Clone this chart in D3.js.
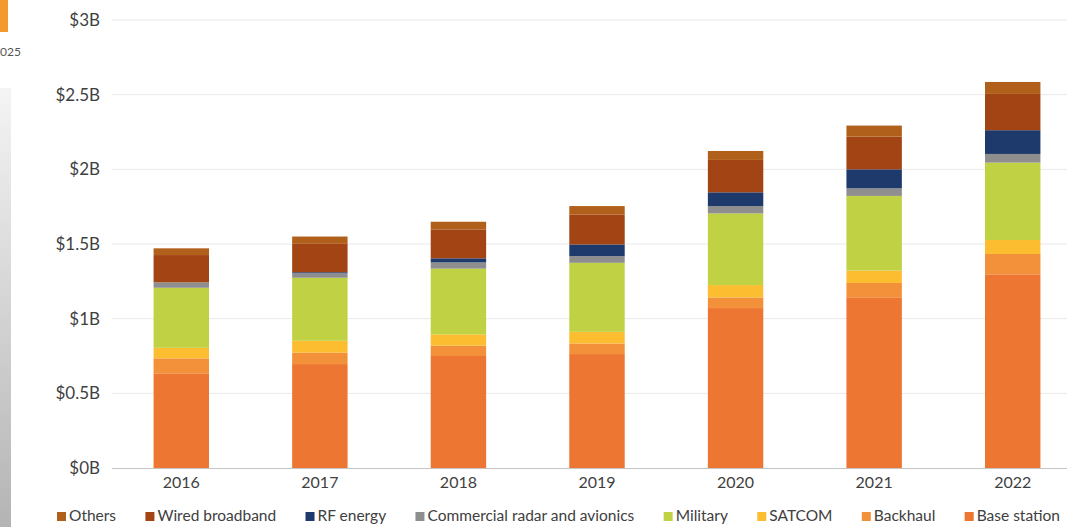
<!DOCTYPE html>
<html>
<head>
<meta charset="utf-8">
<script src="https://cdn.jsdelivr.net/npm/d3@7"></script>
<style>
  html, body { margin: 0; padding: 0; background: #fff; }
  svg { display: block; }
  text { font-family: Lato, "Open Sans", sans-serif; }
</style>
</head>
<body>
<svg id="chart" width="1067" height="527"></svg>
<script>
const years = ["2016", "2017", "2018", "2019", "2020", "2021", "2022"];
const seriesNames = ["Base station", "Backhaul", "SATCOM", "Military", "Commercial radar and avionics", "RF energy", "Wired broadband", "Others"];
const baseStation = [0.634, 0.696, 0.750, 0.763, 1.071, 1.143, 1.297];
const backhaul    = [0.100, 0.076, 0.069, 0.071, 0.071, 0.096, 0.136];
const satcom      = [0.071, 0.080, 0.076, 0.078, 0.083, 0.083, 0.094];
const military    = [0.402, 0.422, 0.440, 0.462, 0.480, 0.500, 0.518];
const commRadar   = [0.036, 0.030, 0.042, 0.045, 0.049, 0.051, 0.058];
const rfEnergy    = [0.000, 0.007, 0.027, 0.078, 0.092, 0.127, 0.159];
const wired       = [0.183, 0.190, 0.194, 0.201, 0.217, 0.219, 0.243];
const others      = [0.045, 0.049, 0.051, 0.056, 0.060, 0.074, 0.080];
const yTicks = [0, 0.5, 1, 1.5, 2, 2.5, 3];
const yTickLabels = ["$0B", "$0.5B", "$1B", "$1.5B", "$2B", "$2.5B", "$3B"];
const legendOrder = ["Others", "Wired broadband", "RF energy", "Commercial radar and avionics", "Military", "SATCOM", "Backhaul", "Base station"];

const colors = {
  "Base station": "#ED7632",
  "Backhaul": "#F2913A",
  "SATCOM": "#FDBD31",
  "Military": "#C1D144",
  "Commercial radar and avionics": "#8E8E8E",
  "RF energy": "#1E3A6D",
  "Wired broadband": "#A34415",
  "Others": "#B0601B"
};

const seriesValues = [baseStation, backhaul, satcom, military, commRadar, rfEnergy, wired, others];
const table = years.map((yr, i) => {
  const row = { year: yr };
  seriesNames.forEach((n, j) => row[n] = seriesValues[j][i]);
  return row;
});

const svg = d3.select("#chart");
const W = 1067, H = 527;

// left slide-edge artifact
const defs = svg.append("defs");
const grad = defs.append("linearGradient").attr("id", "sideGrad").attr("x1", 0).attr("y1", 0).attr("x2", 0).attr("y2", 1);
grad.append("stop").attr("offset", "0%").attr("stop-color", "#f4f4f4");
grad.append("stop").attr("offset", "100%").attr("stop-color", "#b4b4b4");
svg.append("rect").attr("x", 0).attr("y", 88).attr("width", 11).attr("height", H - 88).attr("fill", "url(#sideGrad)");
svg.append("rect").attr("x", 0).attr("y", 0).attr("width", 8).attr("height", 32).attr("fill", "#F39A2E");
svg.append("text").attr("x", 0).attr("y", 56).attr("font-size", 12).attr("fill", "#555").text("025");

const margin = { left: 112, right: -15, top: 20, bottom: 59 };
const x = d3.scaleBand().domain(years).range([margin.left, W - margin.right]).paddingInner(0.6).paddingOuter(0.3);
const y = d3.scaleLinear().domain([0, 3]).range([H - margin.bottom, margin.top]);

// gridlines
svg.append("g").selectAll("line").data(yTicks.filter(d => d > 0)).join("line")
  .attr("x1", margin.left).attr("x2", W)
  .attr("y1", d => y(d)).attr("y2", d => y(d))
  .attr("stroke", "#e9e9e9").attr("stroke-width", 1);

// y axis labels
const yAxis = d3.axisLeft(y).tickValues(yTicks).tickFormat((d, i) => yTickLabels[i]).tickSize(0).tickPadding(12);
const yg = svg.append("g").attr("transform", `translate(${margin.left},0)`).call(yAxis);
yg.select(".domain").remove();
yg.selectAll("text").attr("font-size", 17).attr("fill", "#3f3f3f").attr("font-family", "Lato, sans-serif");

// stacked bars
const stack = d3.stack().keys(seriesNames);
const stacked = stack(table);
svg.append("g").selectAll("g").data(stacked).join("g")
  .attr("fill", d => colors[d.key])
  .selectAll("rect").data(d => d).join("rect")
  .attr("x", d => x(d.data.year))
  .attr("width", x.bandwidth())
  .attr("y", d => y(d[1]))
  .attr("height", d => Math.max(0, y(d[0]) - y(d[1])));

// x axis
const xAxis = d3.axisBottom(x).tickSize(0).tickPadding(9);
const xg = svg.append("g").attr("transform", `translate(0,${y(0)})`).call(xAxis);
xg.select(".domain").remove();
xg.selectAll("text").attr("font-size", 16).attr("fill", "#3f3f3f").attr("font-family", "Lato, sans-serif");
svg.append("line").attr("x1", margin.left).attr("x2", W).attr("y1", y(0) + 0.5).attr("y2", y(0) + 0.5)
  .attr("stroke", "#c4c4c4").attr("stroke-width", 1.2);

// legend
const lg = svg.append("g");
const items = lg.selectAll("g").data(legendOrder).join("g");
items.append("rect").attr("width", 9).attr("height", 9).attr("y", -9).attr("fill", d => colors[d]);
items.append("text").attr("x", 12).attr("y", 0).attr("font-size", 15.5).attr("fill", "#404040").text(d => d);
const widths = [];
items.each(function () { widths.push(this.querySelector("text").getComputedTextLength() + 12); });
const startX = 57, endX = 1060;
const total = d3.sum(widths);
const gap = (endX - startX - total) / (legendOrder.length - 1);
let cx = startX;
items.each(function (d, i) {
  d3.select(this).attr("transform", `translate(${cx},${521})`);
  cx += widths[i] + gap;
});
</script>
</body>
</html>
